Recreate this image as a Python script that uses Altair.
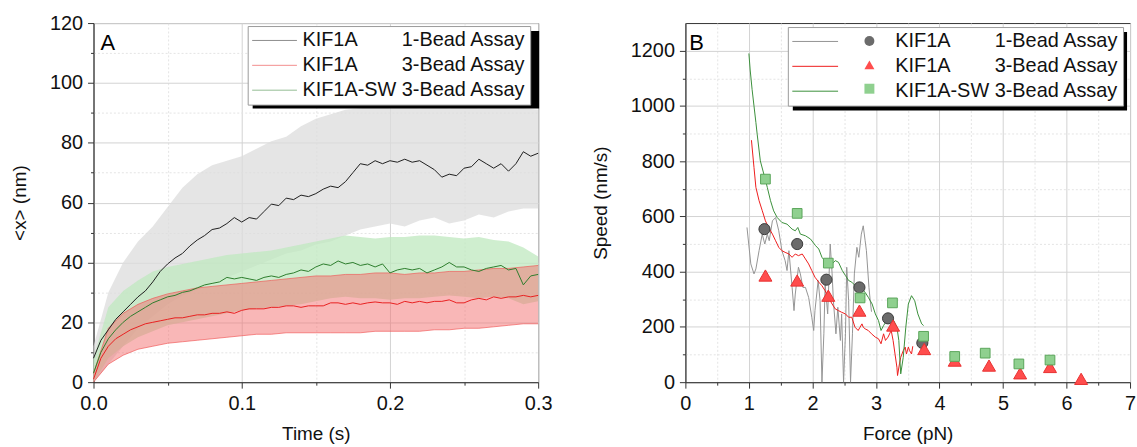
import altair as alt
import pandas as pd

FONT = "Liberation Sans"
NB = "\u00a0"
L1 = "KIF1A" + NB * 8 + "1-Bead Assay"
L2 = "KIF1A" + NB * 8 + "3-Bead Assay"
L3 = "KIF1A-SW" + NB + "3-Bead Assay"
SERIES = [L1, L2, L3]
PSERIES = ["P1", "P2", "P3"]

# ---------------- Panel A data ----------------
t_mean = [round(i * 0.005, 3) for i in range(61)]
t_band = [round(i * 0.01, 2) for i in range(31)]

one_mean = [8, 14, 17.5, 21, 23.5, 26, 28.5, 30.5, 33.5, 37, 39.5, 41.5, 43, 45.5, 47.5, 49,
            51, 51.5, 53, 55, 53.5, 55, 54.5, 57, 59.5, 59, 61.5, 61, 62.5, 62, 63, 64.5,
            65.5, 65, 67, 70, 73, 72.5, 74, 73, 74, 73.5, 74.5, 73.5, 74, 72.5, 71, 68.5,
            69.5, 69, 71.5, 72, 74.5, 73, 71.5, 73, 70.5, 73, 77, 75.5, 76.5]
one_hi = [12, 30, 40, 47, 52, 58.5, 65, 69.5, 72.5, 74, 75.5, 78, 80.5, 82, 85.5, 88,
          89.5, 91, 91.5, 92, 91.5, 92, 91.5, 92, 91.5, 92, 91.5, 92, 91.5, 91.5, 91]
one_lo = [0, 6, 12, 18, 22, 26, 29, 31, 33, 35, 37, 39, 41, 43, 44, 46,
          47, 49, 51, 52, 53, 52, 54, 55, 53, 54, 56, 55, 57, 58, 58]

sw_mean = [3, 10, 14.5, 17.5, 20, 22, 23.5, 25, 26.5, 27.5, 28.5, 29, 30, 30.5, 31.5, 32.5,
           33, 33.5, 35, 34.5, 35, 34.5, 34, 35, 35.5, 35, 36, 36.5, 37.5, 37, 38.5, 39.5,
           39, 40.5, 39.5, 40, 39, 39.5, 38.5, 39.5, 36.5, 37.5, 38, 37.5, 38, 36.5, 37.5,
           38.5, 40, 38.5, 38.5, 37.5, 37, 38, 38.5, 39, 37.5, 38, 32.5, 35.5, 36]
sw_hi = [8, 25, 30.5, 34, 37, 38.5, 39.5, 40.5, 41.5, 42.5, 43, 43.5, 44, 45, 46, 47,
         48, 49, 48.5, 48, 48.5, 48.5, 49, 49, 48.5, 48, 48.5, 47.5, 47, 45, 42]
sw_lo = [0, 8, 12, 15, 17, 19, 20, 21, 22, 23, 24, 24.5, 25, 25.5, 26, 27,
         28, 28.5, 28, 28, 27.5, 28, 28, 28.5, 29, 28.5, 28, 28.5, 28, 26, 27]

three_mean = [1, 8, 12, 14.5, 16, 17.5, 18.5, 19.5, 20, 20.5, 21, 21.5, 21.5, 22, 22.5, 22.5,
              23, 23, 23.5, 23, 24, 24.5, 24.5, 24.5, 25, 25, 25.5, 25.5, 25, 25.5, 25.5,
              25.5, 26.5, 26.5, 26, 26.5, 26, 26.5, 26.8, 26.5, 26.5, 26, 27, 26.5, 27, 26.5,
              27, 27, 27.5, 26.5, 26.5, 27.5, 28, 27.5, 28.5, 28, 28.5, 28.5, 29, 28.5, 29]
three_hi = [3, 18, 23, 26, 28, 29.5, 30.5, 31.5, 32, 32.5, 33, 33.5, 34, 34.5, 35, 35.5,
            35.5, 36, 36, 36.5, 36.5, 36, 36.5, 36.5, 37, 37, 37.5, 38, 38, 38.5, 39]
three_lo = [0, 6, 9, 11, 12, 13, 13.5, 14, 14.5, 15, 15.5, 16, 16, 16.5, 16.5, 16.5,
            16.5, 16.5, 16.5, 17, 17, 17, 17, 17.5, 17.5, 18, 18, 18.5, 19, 19.5, 19.5]

# ---------------- Panel B data ----------------
gray_x = [0.97, 1.03, 1.08, 1.11, 1.16, 1.21, 1.25, 1.29, 1.32, 1.37, 1.42, 1.47, 1.52, 1.57,
          1.60, 1.63, 1.68, 1.71, 1.73, 1.78, 1.81, 1.85, 1.89, 1.94, 1.99, 2.02, 2.04, 2.09,
          2.12, 2.15, 2.18, 2.20, 2.24, 2.28, 2.31, 2.33, 2.37, 2.40, 2.44, 2.46, 2.49, 2.52,
          2.54, 2.57, 2.60, 2.63, 2.66, 2.70, 2.73, 2.77, 2.80, 2.83, 2.85, 2.89, 2.91, 2.93]
gray_y = [560, 428, 392, 410, 476, 536, 500, 536, 512, 584, 596, 548, 476, 440, 404, 476, 343,
          259, 319, 416, 392, 343, 343, 307, 235, 187, 259, 368, 295, 0, 175, 355, 247, 500,
          392, 295, 175, 271, 151, 247, 0, 175, 416, 295, 0, 175, 392, 488, 452, 536, 566,
          512, 476, 343, 295, 255]
red_x = [1.04, 1.08, 1.11, 1.16, 1.21, 1.26, 1.31, 1.37, 1.42, 1.47, 1.52, 1.57, 1.63, 1.68,
         1.73, 1.78, 1.84, 1.89, 1.94, 1.99, 2.04, 2.10, 2.15, 2.20, 2.25, 2.31, 2.36, 2.41,
         2.46, 2.52, 2.57, 2.62, 2.67, 2.72, 2.75, 2.78, 2.80, 2.83, 2.88, 2.93, 2.99, 3.04,
         3.08, 3.12, 3.15, 3.19, 3.24, 3.27, 3.30, 3.33, 3.34, 3.37, 3.39, 3.43, 3.46, 3.48,
         3.51, 3.53, 3.56, 3.58]
red_y = [876, 777, 705, 657, 621, 584, 560, 536, 512, 488, 476, 470, 464, 452, 464, 458, 464,
         446, 428, 404, 380, 362, 349, 331, 307, 283, 265, 259, 253, 247, 235, 235, 199, 187,
         199, 211, 199, 193, 187, 175, 163, 157, 139, 175, 151, 163, 187, 151, 102, 54, 24,
         66, 90, 114, 127, 102, 127, 114, 102, 130]
green_x = [1.00, 1.02, 1.05, 1.08, 1.11, 1.13, 1.18, 1.235, 1.29, 1.34, 1.39, 1.445, 1.52, 1.60,
           1.68, 1.73, 1.77, 1.81, 1.89, 1.97, 2.05, 2.10, 2.15, 2.21, 2.26, 2.31, 2.36, 2.41,
           2.47, 2.52, 2.57, 2.62, 2.675, 2.73, 2.78, 2.83, 2.88, 2.94, 2.99, 3.04, 3.08, 3.12,
           3.17, 3.225, 3.28, 3.33, 3.36, 3.39, 3.43, 3.47, 3.51, 3.56, 3.61, 3.66, 3.72, 3.75]
green_y = [1190, 1130, 1060, 1000, 940, 898, 801, 753, 705, 657, 620, 596, 578, 572, 554, 548,
           560, 536, 530, 518, 494, 482, 452, 434, 428, 428, 440, 434, 404, 386, 368, 362, 349,
           349, 337, 325, 307, 283, 247, 223, 187, 205, 223, 235, 223, 199, 151, 30, 90, 199,
           283, 313, 295, 247, 211, 205]

circ_x = [1.245, 1.76, 2.22, 2.74, 3.19, 3.73]
circ_y = [554, 500, 371, 343, 231, 142]
tri_x = [1.26, 1.76, 2.25, 2.74, 3.27, 3.76, 4.24, 4.78, 5.27, 5.74, 6.23]
tri_y = [386, 368, 313, 259, 205, 120, 78, 60, 32, 55, 12]
sq_x = [1.26, 1.76, 2.25, 2.75, 3.26, 3.75, 4.24, 4.72, 5.25, 5.74]
sq_y = [735, 611, 431, 305, 287, 166, 93, 105, 66, 80]

# ---------------- tables ----------------
mean_df = pd.concat([
    pd.DataFrame({"t": t_mean, "v": one_mean, "sA": L1}),
    pd.DataFrame({"t": t_mean, "v": three_mean, "sA": L2}),
    pd.DataFrame({"t": t_mean, "v": sw_mean, "sA": L3}),
])
band_one = pd.DataFrame({"t": t_band, "lo": one_lo, "hi": one_hi})
band_sw = pd.DataFrame({"t": t_band, "lo": sw_lo, "hi": sw_hi})
band_three = pd.DataFrame({"t": t_band, "lo": three_lo, "hi": three_hi})

lines_df = pd.concat([
    pd.DataFrame({"f": gray_x, "v": gray_y, "sB": L1}),
    pd.DataFrame({"f": red_x, "v": red_y, "sB": L2}),
    pd.DataFrame({"f": green_x, "v": green_y, "sB": L3}),
])
pts_df = pd.concat([
    pd.DataFrame({"f": circ_x, "v": circ_y, "pB": PSERIES[0]}),
    pd.DataFrame({"f": tri_x, "v": tri_y, "pB": PSERIES[1]}),
    pd.DataFrame({"f": sq_x, "v": sq_y, "pB": PSERIES[2]}),
])
one_row = pd.DataFrame({"a": [0]})


def axis(values, major, title, fmt, tpad):
    return alt.Axis(
        values=values, title=title, titlePadding=tpad,
        labelExpr=f"({major}) ? format(datum.value, '{fmt}') : ''",
        tickSize={"condition": {"test": major, "value": 6}, "value": 3},
        gridDash={"condition": {"test": major, "value": []}, "value": [2, 2]},
        gridColor={"condition": {"test": major, "value": "#d3d3d3"}, "value": "#e4e4e4"},
        labelFlush=False, labelOverlap=False, grid=True,
    )


W, H = 447, 361

# ---------------- Panel A ----------------
ax_tA = axis([round(i * 0.05, 2) for i in range(7)],
             "abs(datum.value*10 - round(datum.value*10)) < 0.001", "Time (s)", ".1f", 12)
ax_xA = axis([i * 10 for i in range(13)], "datum.value % 20 == 0", "<x> (nm)", "d", 20)
xA = alt.X("t:Q", scale=alt.Scale(domain=[0, 0.3], nice=False), axis=ax_tA)
yA_scale = alt.Scale(domain=[0, 120], nice=False)


def band(df, color, op):
    return alt.Chart(df).mark_area(color=color, opacity=op).encode(
        x=xA, y=alt.Y("lo:Q", scale=yA_scale, axis=ax_xA), y2="hi:Q")


bA1 = band(band_one, "#dcdcdc", 0.75)
bA2 = band(band_sw, "#bfe8bf", 0.75)
bA3 = band(band_three, "#f47070", 0.5)
edge_lo = alt.Chart(band_three).mark_line(color="#f05050", strokeWidth=0.8, opacity=0.8).encode(
    x=xA, y=alt.Y("lo:Q", scale=yA_scale, axis=ax_xA))
edge_hi = alt.Chart(band_three).mark_line(color="#f05050", strokeWidth=0.8, opacity=0.8).encode(
    x=xA, y=alt.Y("hi:Q", scale=yA_scale, axis=ax_xA))

legA = alt.Legend(title=None, orient="none", legendX=155, legendY=3, symbolType="M-1,0H3.5",
                  symbolSize=400, symbolStrokeWidth=1, symbolOpacity=0.5, labelOffset=30,
                  padding=4, rowPadding=4, fillColor="white", strokeColor="#9a9a9a",
                  labelFontSize=20, labelFont=FONT, labelLimit=500,
                  labelExpr="datum.label + '" + NB + "'")
meanA = alt.Chart(mean_df).mark_line(strokeWidth=1).encode(
    x=xA, y=alt.Y("v:Q", scale=yA_scale, axis=ax_xA),
    stroke=alt.Stroke("sA:N", scale=alt.Scale(domain=SERIES, range=["#1e1e1e", "#e82020", "#2c7d2c"]),
                      legend=legA))
shadowA = alt.Chart(one_row).mark_rect(color="black", clip=False).encode(
    x=alt.value(160), x2=alt.value(448), y=alt.value(8), y2=alt.value(86))
labA = alt.Chart(one_row).mark_text(text="A", align="left", baseline="alphabetic", fontSize=22,
                                   font=FONT, color="black").encode(x=alt.value(7), y=alt.value(27))

panelA = alt.layer(bA1, bA2, bA3, edge_lo, edge_hi, meanA, shadowA, labA).properties(width=W, height=H)

# ---------------- Panel B ----------------
ax_fB = axis([i * 0.5 for i in range(15)], "datum.value % 1 == 0", "Force (pN)", "d", 12)
ax_sB = axis([i * 100 for i in range(13)], "datum.value % 200 == 0", "Speed (nm/s)", "d", 20)
xB = alt.X("f:Q", scale=alt.Scale(domain=[0, 7], nice=False), axis=ax_fB)
yB = alt.Y("v:Q", scale=alt.Scale(domain=[0, 1300], nice=False), axis=ax_sB)

legB1 = alt.Legend(title=None, orient="none", legendX=103, legendY=4, symbolType="M-1,0H3.6",
                   symbolSize=400, symbolStrokeWidth=1, labelOffset=83, padding=4, rowPadding=4,
                   fillColor="white", strokeColor="#9a9a9a", labelFontSize=20, labelFont=FONT,
                   labelLimit=500, zindex=0)
legB2 = alt.Legend(title=None, orient="none", legendX=171, legendY=4, symbolSize=100,
                   symbolStrokeWidth=0, padding=4, rowPadding=4, labelFontSize=20, labelFont=FONT,
                   labelOpacity=0, labelExpr="'" + NB + "'", labelLimit=500, zindex=1)

linesB = alt.Chart(lines_df).mark_line(strokeWidth=1).encode(
    x=xB, y=yB,
    stroke=alt.Stroke("sB:N", scale=alt.Scale(domain=SERIES, range=["#949494", "#ee1c1c", "#3a8f3a"]),
                      legend=legB1))

fill_enc = alt.Fill("pB:N", scale=alt.Scale(domain=PSERIES, range=["#6b6b6b", "#ff4d4d", "#8fd08f"]),
                    legend=legB2)
shape_enc = alt.Shape("pB:N", scale=alt.Scale(domain=PSERIES, range=["circle", "triangle-up", "square"]),
                      legend=legB2)


def pts(name, edge, size):
    return alt.Chart(pts_df).transform_filter(alt.datum.pB == name).mark_point(
        filled=True, opacity=1, size=size, stroke=edge, strokeWidth=1).encode(
        x=xB, y=yB, fill=fill_enc, shape=shape_enc)


pC = pts(PSERIES[0], "#3a3a3a", 125)
pT = pts(PSERIES[1], "#e83030", 170)
pS = pts(PSERIES[2], "#5aa55a", 95)

shadowB = alt.Chart(one_row).mark_rect(color="black", clip=False).encode(
    x=alt.value(108), x2=alt.value(444), y=alt.value(9), y2=alt.value(88))
labB = alt.Chart(one_row).mark_text(text="B", align="left", baseline="alphabetic", fontSize=22,
                                   font=FONT, color="black").encode(x=alt.value(4), y=alt.value(27))

panelB = alt.layer(linesB, pC, pT, pS, shadowB, labB).properties(width=W, height=H)

chart = alt.hconcat(panelA, panelB, spacing=38).resolve_scale(
    stroke="independent", fill="independent", shape="independent"
).resolve_legend(
    stroke="independent", fill="independent", shape="independent"
).properties(
    padding={"left": 10, "top": 11, "right": 0, "bottom": 0}
).configure_axis(
    labelFont=FONT, titleFont=FONT, labelFontSize=20, titleFontSize=19, titleFontWeight="normal",
    labelColor="#111", titleColor="#111", domainColor="#333", tickColor="#333",
    labelPadding=5,
).configure_legend(labelFont=FONT, labelColor="#111").configure_view(stroke="#333", strokeWidth=1)

chart.save("out.html", embed_options={"renderer": "svg", "actions": False})
